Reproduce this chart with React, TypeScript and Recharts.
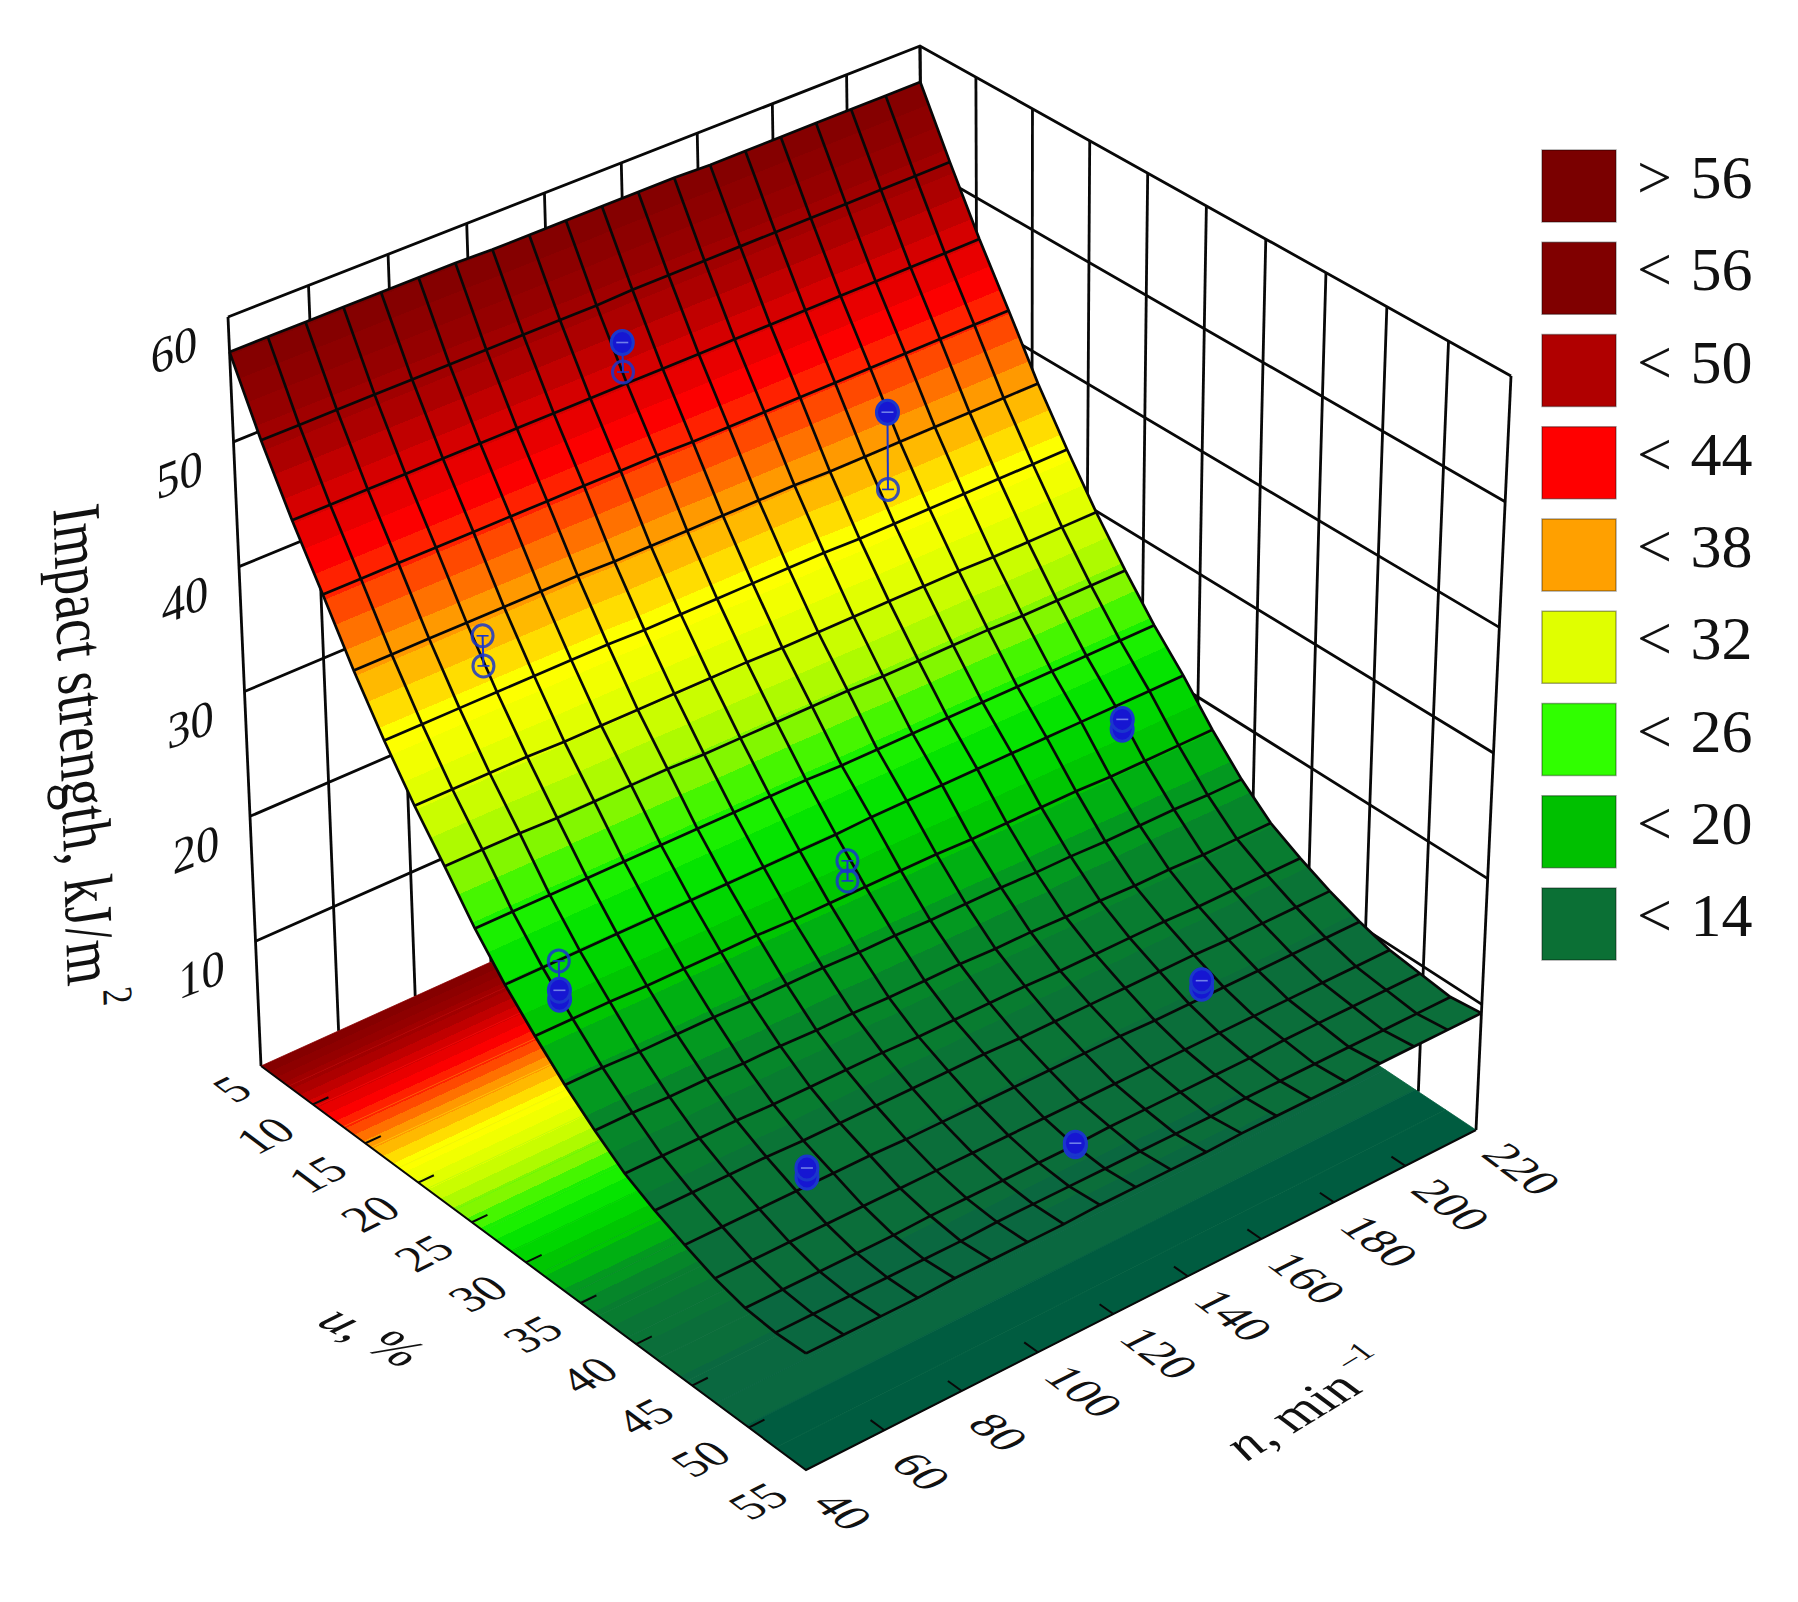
import React from "react";
import { ScatterChart, Scatter, XAxis, YAxis } from "recharts";

// ---------- data ----------
const uTicks = [5, 10, 15, 20, 25, 30, 35, 40, 45, 50, 55];
const nTicks = [40, 60, 80, 100, 120, 140, 160, 180, 200, 220];
const zTicks = [10, 20, 30, 40, 50, 60];
const surfaceU = [5, 7.63, 10.26, 12.89, 15.53, 18.16, 20.79, 23.42, 26.05, 28.68, 31.32, 33.95, 36.58, 39.21, 41.84, 44.47, 47.11, 49.74, 52.37, 55];
const surfaceN = [40, 49.5, 58.9, 68.4, 77.9, 87.4, 96.8, 106.3, 115.8, 125.3, 134.7, 144.2, 153.7, 163.2, 172.6, 182.1, 191.6, 201.1, 210.5, 220];
const surfaceZ = [
  [57.2, 57.2, 57.2, 57.2, 57.2, 57.2, 57.2, 57.1, 57.1, 57.1, 57.1, 57.1, 57.1, 57.0, 57.0, 57.0, 57.0, 57.0, 57.0, 57.0],
  [51.6, 51.6, 51.6, 51.6, 51.6, 51.6, 51.6, 51.6, 51.6, 51.6, 51.7, 51.7, 51.7, 51.7, 51.7, 51.7, 51.7, 51.7, 51.7, 51.7],
  [46.7, 46.7, 46.7, 46.7, 46.7, 46.7, 46.7, 46.7, 46.7, 46.7, 46.7, 46.7, 46.7, 46.7, 46.7, 46.7, 46.7, 46.7, 46.7, 46.7],
  [42.3, 42.3, 42.3, 42.3, 42.3, 42.3, 42.3, 42.3, 42.3, 42.3, 42.2, 42.2, 42.2, 42.2, 42.2, 42.2, 42.2, 42.2, 42.2, 42.2],
  [37.8, 37.8, 37.8, 37.8, 37.8, 37.8, 37.8, 37.7, 37.7, 37.7, 37.7, 37.7, 37.7, 37.6, 37.6, 37.6, 37.6, 37.6, 37.6, 37.6],
  [33.8, 33.8, 33.8, 33.8, 33.8, 33.8, 33.8, 33.7, 33.7, 33.7, 33.7, 33.7, 33.7, 33.6, 33.6, 33.6, 33.6, 33.6, 33.6, 33.6],
  [30.2, 30.2, 30.2, 30.2, 30.1, 30.1, 30.1, 30.1, 30.1, 30.1, 30.0, 30.0, 30.0, 30.0, 30.0, 30.0, 29.9, 29.9, 29.9, 29.9],
  [27.0, 27.0, 27.0, 26.9, 26.9, 26.9, 26.9, 26.8, 26.8, 26.8, 26.8, 26.8, 26.7, 26.7, 26.7, 26.7, 26.6, 26.6, 26.6, 26.6],
  [23.7, 23.7, 23.7, 23.7, 23.7, 23.7, 23.7, 23.7, 23.7, 23.7, 23.6, 23.6, 23.6, 23.6, 23.6, 23.6, 23.6, 23.6, 23.6, 23.6],
  [20.9, 20.9, 20.9, 20.9, 20.9, 20.9, 20.9, 20.9, 20.9, 20.9, 21.0, 21.0, 21.0, 21.0, 21.0, 21.0, 21.0, 21.0, 21.0, 21.0],
  [18.5, 18.5, 18.5, 18.4, 18.4, 18.4, 18.4, 18.3, 18.3, 18.3, 18.3, 18.3, 18.2, 18.2, 18.2, 18.2, 18.1, 18.1, 18.1, 18.1],
  [16.3, 16.3, 16.2, 16.2, 16.2, 16.1, 16.1, 16.1, 16.0, 16.0, 15.9, 15.9, 15.9, 15.8, 15.8, 15.7, 15.7, 15.7, 15.6, 15.6],
  [14.4, 14.4, 14.3, 14.3, 14.2, 14.2, 14.1, 14.1, 14.0, 14.0, 14.0, 13.9, 13.9, 13.8, 13.8, 13.7, 13.7, 13.6, 13.6, 13.6],
  [12.7, 12.7, 12.7, 12.7, 12.6, 12.6, 12.6, 12.6, 12.5, 12.5, 12.5, 12.5, 12.4, 12.4, 12.4, 12.4, 12.3, 12.3, 12.3, 12.3],
  [11.5, 11.5, 11.5, 11.5, 11.4, 11.4, 11.4, 11.4, 11.4, 11.4, 11.3, 11.3, 11.3, 11.3, 11.3, 11.3, 11.2, 11.2, 11.2, 11.2],
  [10.5, 10.5, 10.5, 10.5, 10.5, 10.5, 10.4, 10.4, 10.4, 10.4, 10.4, 10.4, 10.4, 10.3, 10.3, 10.3, 10.3, 10.3, 10.3, 10.3],
  [9.6, 9.6, 9.6, 9.6, 9.6, 9.6, 9.6, 9.6, 9.6, 9.6, 9.6, 9.6, 9.6, 9.6, 9.6, 9.6, 9.6, 9.6, 9.6, 9.6],
  [9.0, 9.0, 9.0, 9.0, 9.0, 9.1, 9.1, 9.1, 9.1, 9.1, 9.2, 9.2, 9.2, 9.2, 9.2, 9.3, 9.3, 9.3, 9.3, 9.3],
  [8.8, 8.8, 8.8, 8.8, 8.8, 8.8, 8.9, 8.9, 8.9, 8.9, 8.9, 8.9, 8.9, 9.0, 9.0, 9.0, 9.0, 9.0, 9.0, 9.0],
  [8.9, 8.9, 8.9, 8.9, 9.0, 9.0, 9.0, 9.0, 9.1, 9.1, 9.1, 9.1, 9.2, 9.2, 9.2, 9.2, 9.3, 9.3, 9.3, 9.3],
];
const markerU = [10, 17.3, 17.2, 29.7, 30.9, 30.35, 30.35, 44.2, 49.9, 44.1];
const markerN = [125.1, 173.5, 67.8, 199.8, 121.8, 49, 49, 176.8, 125, 72.2];
const markerLowZ = [47.5, 35.8, 35.4, 19.9, 19.0, 20.2, 19.5, 10.8, 9.2, 10.8];
const markerHighZ = [49.9, 42.1, 37.8, 20.7, 20.6, 22.5, 20.2, 11.4, 9.4, 11.5];
const markerFilled = [true, true, false, true, false, false, true, true, true, true];
const legendLabels = ["> 56", "< 56", "< 50", "< 44", "< 38", "< 32", "< 26", "< 20", "< 14"];
const legendColors = ["#7a0000", "#800000", "#b00000", "#ff0000", "#ffa000", "#e0ff00", "#30ff00", "#00c000", "#0b7035"];
const colorLevels = [7, 8.3, 9, 11.8, 14.8, 16.7, 18.9, 21.3, 22.8, 24.2, 27, 30, 32, 34, 36, 38, 41, 44, 47, 50, 53, 56, 58];
const colorStops = ["#005c40", "#0a6840", "#0b6b3c", "#0a7634", "#058a28", "#00a818", "#00c800", "#00e000", "#10ee00", "#30f500", "#a0f800", "#d8ff00", "#f0ff00", "#ffff00", "#ffc800", "#ffa000", "#ff5000", "#ff0000", "#d80000", "#ae0000", "#960000", "#860000", "#7a0000"];

// ---------- projection of the 3D box on the page ----------
const W = 1798, H = 1602;
const FLOOR = { L: [261, 1066], B: [806, 1470], R: [1476, 1130], K: [926, 765] };
const TOP = { L: [228, 317], B: [806, 684], R: [1511, 376], K: [920, 46] };
const Z_MAX = 60;
const homography = (c: any) => {
  const dx1 = c.B[0] - c.R[0], dy1 = c.B[1] - c.R[1];
  const dx2 = c.K[0] - c.R[0], dy2 = c.K[1] - c.R[1];
  const sx = c.L[0] - c.B[0] + c.R[0] - c.K[0], sy = c.L[1] - c.B[1] + c.R[1] - c.K[1];
  const den = dx1 * dy2 - dx2 * dy1;
  const g = (sx * dy2 - dx2 * sy) / den, h = (dx1 * sy - sx * dy1) / den;
  return (s: number, t: number) => {
    const w = 1 + g * s + h * t;
    return [0, 1].map((a) => ((c.B[a] * (1 + g) - c.L[a]) * s + (c.K[a] * (1 + h) - c.L[a]) * t + c.L[a]) / w);
  };
};
const floorMap = homography(FLOOR), topMap = homography(TOP);
const project = (u: number, n: number, z: number) => {
  const s = (u - 5) / 50, t = (n - 40) / 180, k = z / Z_MAX;
  const f = floorMap(s, t), p = topMap(s, t);
  return { x: f[0] * (1 - k) + p[0] * k, y: f[1] * (1 - k) + p[1] * k };
};

const hex = (c: string) => [1, 3, 5].map((i) => parseInt(c.slice(i, i + 2), 16));
const colorAt = (z: number) => {
  if (z <= colorLevels[0]) return colorStops[0];
  for (let i = 1; i < colorLevels.length; i++) {
    if (z <= colorLevels[i]) {
      const f = (z - colorLevels[i - 1]) / (colorLevels[i] - colorLevels[i - 1]);
      const a = hex(colorStops[i - 1]), b = hex(colorStops[i]);
      return `rgb(${a.map((v, k) => Math.round(v + (b[k] - v) * f)).join(",")})`;
    }
  }
  return colorStops[colorStops.length - 1];
};
const BAND = 1.5;
const bandStops = (z0: number, z1: number) => {
  const out: { o: number; c: string }[] = [];
  const hi = Math.max(z0, z1), lo = Math.min(z0, z1);
  const span = Math.max(hi - lo, 0.001);
  let a = hi;
  while (a > lo + 1e-6) {
    const q = Math.ceil(a / BAND - 1e-9);
    const b = Math.max(lo, (q - 1) * BAND);
    const c = colorAt((q - 0.5) * BAND);
    out.push({ o: (hi - a) / span, c }, { o: (hi - b) / span, c });
    a = b;
  }
  if (!out.length) out.push({ o: 0, c: colorAt(hi) }, { o: 1, c: colorAt(hi) });
  return out;
};
const avg = (p: any[]) => ({
  x: p.reduce((s, q) => s + q.x, 0) / p.length,
  y: p.reduce((s, q) => s + q.y, 0) / p.length,
});
const quad = (id: string, p: any[], z0: number, z1: number, seam: boolean) => {
  const c = avg(p);
  return { x: c.x, y: c.y, id, corners: p.map((q) => [q.x - c.x, q.y - c.y]), z0, z1, seam };
};
const surfaceCells: any[] = [];
surfaceU.slice(0, -1).forEach((u, i) => {
  surfaceN.slice(0, -1).forEach((n, j) => {
    const zs = surfaceZ;
    const p = [
      project(u, n, zs[i][j]),
      project(u, surfaceN[j + 1], zs[i][j + 1]),
      project(surfaceU[i + 1], surfaceN[j + 1], zs[i + 1][j + 1]),
      project(surfaceU[i + 1], n, zs[i + 1][j]),
    ];
    surfaceCells.push(quad(`s${i}_${j}`, p, (zs[i][j] + zs[i][j + 1]) / 2, (zs[i + 1][j] + zs[i + 1][j + 1]) / 2, false));
  });
});
// the floor projection is a little darker than the lit surface at the low end
const floorTone = (z: number) => z - Math.max(0, Math.min(1.6, (16 - z) * 0.5));
const floorCells = surfaceU.slice(0, -1).map((u, i) => {
  const last = surfaceN[surfaceN.length - 1], first = surfaceN[0], mid = 9;
  const p = [project(u, first, 0), project(u, last, 0), project(surfaceU[i + 1], last, 0), project(surfaceU[i + 1], first, 0)];
  return quad(`f${i}`, p, floorTone(surfaceZ[i][mid]), floorTone(surfaceZ[i + 1][mid]), true);
});

const QuadShape = (props: any) => {
  const { cx, cy, payload: d } = props;
  const pts = d.corners.map((q: number[]) => [q[0] + cx, q[1] + cy]);
  const e0 = [(pts[0][0] + pts[1][0]) / 2, (pts[0][1] + pts[1][1]) / 2];
  const e1 = [(pts[2][0] + pts[3][0]) / 2, (pts[2][1] + pts[3][1]) / 2];
  const ex = pts[1][0] - pts[0][0] + pts[2][0] - pts[3][0], ey = pts[1][1] - pts[0][1] + pts[2][1] - pts[3][1];
  const l = Math.hypot(ex, ey);
  const nx = -ey / l, ny = ex / l;
  const dn = (e1[0] - e0[0]) * nx + (e1[1] - e0[1]) * ny;
  const stops = bandStops(d.z0, d.z1);
  const mid = colorAt((d.z0 + d.z1) / 2);
  return (
    <g>
      <defs>
        <linearGradient id={d.id} gradientUnits="userSpaceOnUse" x1={e0[0]} y1={e0[1]} x2={e0[0] + nx * dn} y2={e0[1] + ny * dn}>
          {stops.map((s, i) => <stop key={i} offset={s.o} stopColor={s.c} />)}
        </linearGradient>
      </defs>
      <polygon
        points={pts.map((q: number[]) => q.join(",")).join(" ")}
        fill={`url(#${d.id})`}
        stroke={d.seam ? mid : "none"}
        strokeWidth={d.seam ? 0.8 : 0}
      />
    </g>
  );
};

// ---------- line series ----------
const LINE = "#080808";
const wallLines: { x: number; y: number }[][] = [];
const uMin = uTicks[0], uMax = uTicks[uTicks.length - 1];
const nMin = nTicks[0], nMax = nTicks[nTicks.length - 1];
nTicks.forEach((n) => wallLines.push([project(uMin, n, 0), project(uMin, n, Z_MAX)]));
uTicks.forEach((u) => wallLines.push([project(u, nMax, 0), project(u, nMax, Z_MAX)]));
zTicks.forEach((z) => wallLines.push([project(uMin, nMin, z), project(uMin, nMax, z), project(uMax, nMax, z)]));
const floorEdges = [
  [project(uMin, nMin, 0), project(uMax, nMin, 0), project(uMax, nMax, 0)],
];
const rowLines = surfaceU.map((u, i) => surfaceN.map((n, j) => project(u, n, surfaceZ[i][j])));
const colLines = surfaceN.map((n, j) => surfaceU.map((u, i) => project(u, n, surfaceZ[i][j])));

const NoDot = () => <g />;

// ---------- text ----------
const FONT = "'Liberation Serif', 'Times New Roman', serif";
const Txt = (props: any) => {
  const { cx, cy, payload: d } = props;
  const m = d.m;
  return (
    <text
      transform={`matrix(${m[0]} ${m[1]} ${m[2]} ${m[3]} ${cx} ${cy})`}
      textAnchor="middle"
      dominantBaseline="central"
      fontFamily={FONT}
      fontSize={d.size}
      fill="#111"
    >
      {d.label}
    </text>
  );
};
const M_FLOOR_U = [0.89, -0.45, 0.8, 0.6];  // baseline along n, glyph top towards u min
const M_FLOOR_N = [0.8, 0.6, -0.89, 0.45];  // baseline along u, glyph top towards n max
const M_WALL = [0.93, -0.36, 0, 1];
const uLabels = uTicks.map((u, i) => {
  const p = project(u, nMin, 0);
  const off = i === 0 ? [-29, 23] : [-48, 31];
  return { x: p.x + off[0], y: p.y + off[1], label: String(u), size: 47, m: M_FLOOR_U };
});
const nLabels = nTicks.map((n) => {
  const p = project(uMax, n, 0);
  const off = n < 100 ? [37, 41] : [46, 39];
  return { x: p.x + off[0], y: p.y + off[1], label: String(n), size: 47, m: M_FLOOR_N };
});
const zLabels = zTicks.map((z) => {
  const p = project(uMin, nMin, z);
  return { x: p.x - 54, y: p.y + 33, label: String(z), size: 50, m: M_WALL };
});
const axisTitles = [
  { x: 373, y: 1336, label: <tspan><tspan fontStyle="italic">u</tspan>, %</tspan>, size: 54, m: [0.88, 0.45, -0.8, 0.55] },
  {
    x: 1308, y: 1405,
    label: <tspan><tspan fontStyle="italic">n</tspan>, min<tspan dy={-20} fontSize={32}> –1</tspan></tspan>,
    size: 54, m: [0.85, -0.52, 0.8, 0.6],
  },
  {
    x: 84, y: 757,
    label: <tspan>Impact strength, kJ/m<tspan dy={-22} fontSize={34}> 2</tspan></tspan>,
    size: 55, m: [0.03, 1, -1.25, 0.2],
  },
];

const axisTicks = [
  ...uTicks.slice(1, -1).map((u) => [project(u, nMin, 0), project(u, nMin + 4, 0)]),
  ...nTicks.slice(1, -1).map((n) => [project(uMax, n, 0), project(uMax - 1.2, n, 0)]),
];

// ---------- markers ----------
const markerPairs = markerU.map((u, i) => [
  { ...project(u, markerN[i], markerLowZ[i]), filled: markerFilled[i] && markerLowZ[i] + 2 > markerHighZ[i] },
  { ...project(u, markerN[i], markerHighZ[i]), filled: markerFilled[i] },
]);
const BLUE = "#1a36cc";
const MarkerShape = (props: any) => {
  const { cx, cy, payload: d } = props;
  return (
    <g>
      <ellipse cx={cx} cy={cy} rx={d.filled ? 11 : 10.5} ry={d.filled ? 12 : 11} fill={d.filled ? "#1616d2" : "none"} stroke={BLUE} strokeWidth={3} strokeOpacity={d.filled ? 1 : 0.85} />
      <line x1={cx - 6} x2={cx + 6} y1={cy} y2={cy} stroke={d.filled ? "#6f7fe8" : BLUE} strokeWidth={1.6} />
    </g>
  );
};

// ---------- legend ----------
const legendRows = legendLabels.map((label, i) => ({ x: 1579, y: 186 + i * 92.25, label, color: legendColors[i] }));
const LegendRow = (props: any) => {
  const { cx, cy, payload: d } = props;
  return (
    <g>
      <rect x={cx - 37} y={cy - 36} width={74} height={72} fill={d.color} stroke="#000" strokeOpacity={0.35} strokeWidth={1.5} />
      <text x={cx + 58} y={cy + 12} fontFamily={FONT} fontSize={62} fill="#111" wordSpacing={3} style={{ whiteSpace: "pre" }}>
        {d.label}
      </text>
    </g>
  );
};

export default function App() {
  return (
    <div style={{ position: "absolute", left: 0, top: 0, width: W, height: H, background: "#fff" }}>
      <ScatterChart width={W} height={H} margin={{ top: 0, right: 0, bottom: 0, left: 0 }}>
        <XAxis type="number" dataKey="x" domain={[0, W]} hide />
        <YAxis type="number" dataKey="y" domain={[0, H]} reversed hide />
        {wallLines.map((l, i) => (
          <Scatter key={`w${i}`} data={l} line={{ stroke: LINE, strokeWidth: 2.8 }} shape={NoDot} isAnimationActive={false} />
        ))}
        <Scatter data={floorCells} shape={QuadShape} isAnimationActive={false} />
        {floorEdges.map((l, i) => (
          <Scatter key={`e${i}`} data={l} line={{ stroke: LINE, strokeWidth: 2 }} shape={NoDot} isAnimationActive={false} />
        ))}
        {axisTicks.map((l, i) => (
          <Scatter key={`t${i}`} data={l} line={{ stroke: LINE, strokeWidth: 2 }} shape={NoDot} isAnimationActive={false} />
        ))}
        <Scatter data={surfaceCells} shape={QuadShape} isAnimationActive={false} />
        {rowLines.map((l, i) => (
          <Scatter key={`r${i}`} data={l} line={{ stroke: LINE, strokeWidth: 2.7 }} shape={NoDot} isAnimationActive={false} />
        ))}
        {colLines.map((l, i) => (
          <Scatter key={`c${i}`} data={l} line={{ stroke: LINE, strokeWidth: 2.7 }} shape={NoDot} isAnimationActive={false} />
        ))}
        {markerPairs.map((l, i) => (
          <Scatter key={`m${i}`} data={l} line={{ stroke: BLUE, strokeWidth: 2 }} shape={MarkerShape} isAnimationActive={false} />
        ))}
        <Scatter data={uLabels} shape={Txt} isAnimationActive={false} />
        <Scatter data={nLabels} shape={Txt} isAnimationActive={false} />
        <Scatter data={zLabels} shape={Txt} isAnimationActive={false} />
        <Scatter data={axisTitles} shape={Txt} isAnimationActive={false} />
        <Scatter data={legendRows} shape={LegendRow} isAnimationActive={false} />
      </ScatterChart>
    </div>
  );
}
